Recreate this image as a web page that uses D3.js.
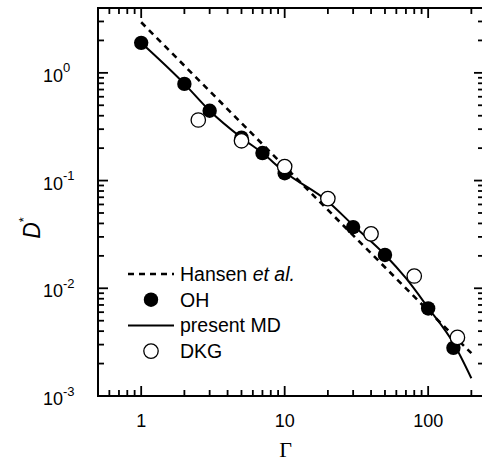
<!DOCTYPE html>
<html>
<head>
<meta charset="utf-8">
<script src="https://cdn.jsdelivr.net/npm/d3@7"></script>
<style>
  html, body { margin: 0; padding: 0; background: #fff; }
  svg { display: block; }
  text { font-family: "Liberation Sans", Arial, sans-serif; fill: #000; }
</style>
</head>
<body>
<svg id="chart" width="482" height="462"></svg>
<script>
// ---- data ----
const hansenGamma = [1, 10, 100, 200];
const hansenD     = [2.95, 0.135, 0.0062, 0.0025];

const mdGamma = [1, 2, 3, 5, 7, 10, 20, 30, 50, 70, 100, 150, 200];
const mdD     = [1.9, 0.79, 0.445, 0.25, 0.18, 0.12, 0.064, 0.0385, 0.0205, 0.0124, 0.0066, 0.0031, 0.00146];

const ohGamma = [1, 2, 3, 5, 7, 10, 30, 50, 100, 150];
const ohD     = [1.9, 0.79, 0.445, 0.25, 0.18, 0.117, 0.037, 0.0204, 0.0065, 0.0028];

const dkgGamma = [2.5, 5, 10, 20, 40, 80, 160];
const dkgD     = [0.365, 0.234, 0.135, 0.068, 0.032, 0.013, 0.0035];

const xMajorTicks = [1, 10, 100];
const xMinorTicks = [0.6, 0.7, 0.8, 0.9, 2, 3, 4, 5, 6, 7, 8, 9, 20, 30, 40, 50, 60, 70, 80, 90, 200];
const yMajorTicks = [1e-3, 1e-2, 1e-1, 1];
const yMajorExp   = ["-3", "-2", "-1", "0"];
const yMinorTicks = [2e-3,3e-3,4e-3,5e-3,6e-3,7e-3,8e-3,9e-3,
                     2e-2,3e-2,4e-2,5e-2,6e-2,7e-2,8e-2,9e-2,
                     0.2,0.3,0.4,0.5,0.6,0.7,0.8,0.9, 2, 3];

const legendItems = [
  {label: "Hansen ", italic: "et al.", kind: "dash"},
  {label: "OH", kind: "filled"},
  {label: "present MD", kind: "solid"},
  {label: "DKG", kind: "open"}
];

// ---- layout ----
const L = 98, R = 484, T = 8, B = 396;
const svg = d3.select("#chart");
const x = d3.scaleLog().domain([0.5, 245]).range([L, R]);
const y = d3.scaleLog().domain([1e-3, 4]).range([B, T]);

const g = svg.append("g");

// frame
g.append("rect").attr("x", L).attr("y", T).attr("width", R - L).attr("height", B - T)
  .attr("fill", "none").attr("stroke", "#000").attr("stroke-width", 2);

// ticks (inward on all sides)
const majorLen = 10, minorLen = 6;
function xTicks(vals, len) {
  g.append("g").selectAll("line.b").data(vals).join("line")
    .attr("x1", d => x(d)).attr("x2", d => x(d)).attr("y1", B).attr("y2", B - len)
    .attr("stroke", "#000").attr("stroke-width", 1.8);
  g.append("g").selectAll("line.t").data(vals).join("line")
    .attr("x1", d => x(d)).attr("x2", d => x(d)).attr("y1", T).attr("y2", T + len)
    .attr("stroke", "#000").attr("stroke-width", 1.8);
}
function yTicks(vals, len) {
  g.append("g").selectAll("line.l").data(vals).join("line")
    .attr("y1", d => y(d)).attr("y2", d => y(d)).attr("x1", L).attr("x2", L + len)
    .attr("stroke", "#000").attr("stroke-width", 1.8);
  g.append("g").selectAll("line.r").data(vals).join("line")
    .attr("y1", d => y(d)).attr("y2", d => y(d)).attr("x1", R).attr("x2", R - len)
    .attr("stroke", "#000").attr("stroke-width", 1.8);
}
xTicks(xMajorTicks, majorLen);
xTicks(xMinorTicks, minorLen);
yTicks(yMajorTicks, majorLen);
yTicks(yMinorTicks, minorLen);

// x tick labels
g.append("g").selectAll("text").data(xMajorTicks).join("text")
  .attr("x", d => x(d)).attr("y", B + 31)
  .attr("text-anchor", "middle").attr("font-size", 18)
  .text(d => d3.format("d")(d));

// y tick labels
const yl = g.append("g").selectAll("text").data(yMajorTicks).join("text")
  .attr("x", 43).attr("y", d => y(d) + 9).attr("font-size", 18);
yl.append("tspan").text("10");
yl.append("tspan").attr("dy", -9.5).attr("font-size", 13).text((d, i) => yMajorExp[i]);

// axis titles
svg.append("text").attr("x", x(10) + 1).attr("y", 457)
  .attr("text-anchor", "middle").attr("font-size", 22)
  .style("font-family", "'Liberation Serif', 'Times New Roman', serif")
  .text("Γ");

const yt = svg.append("text").attr("transform", "translate(40,228) rotate(-90)")
  .attr("text-anchor", "middle").attr("font-size", 23);
yt.append("tspan").attr("font-style", "italic").text("D");
yt.append("tspan").attr("dy", -12).attr("font-size", 13).text("*");

// lines
const line = d3.line().x(d => x(d[0])).y(d => y(d[1]));
g.append("path")
  .datum(d3.zip(hansenGamma, hansenD))
  .attr("d", line)
  .attr("fill", "none").attr("stroke", "#000").attr("stroke-width", 2.6)
  .attr("stroke-dasharray", "6,5");

g.append("path")
  .datum(d3.zip(mdGamma, mdD))
  .attr("d", d3.line().x(d => x(d[0])).y(d => y(d[1])).curve(d3.curveMonotoneX))
  .attr("fill", "none").attr("stroke", "#000").attr("stroke-width", 2);

// markers
const rad = 7.2;
g.append("g").selectAll("circle").data(d3.zip(ohGamma, ohD)).join("circle")
  .attr("cx", d => x(d[0])).attr("cy", d => y(d[1])).attr("r", rad)
  .attr("fill", "#000");
g.append("g").selectAll("circle").data(d3.zip(dkgGamma, dkgD)).join("circle")
  .attr("cx", d => x(d[0])).attr("cy", d => y(d[1])).attr("r", rad)
  .attr("fill", "#fff").attr("stroke", "#000").attr("stroke-width", 1.3);

// legend
const lg = g.append("g");
const rowY = i => 274 + i * 25.7;
legendItems.forEach((it, i) => {
  const yy = rowY(i);
  if (it.kind === "dash") {
    lg.append("line").attr("x1", 128).attr("x2", 174).attr("y1", yy).attr("y2", yy)
      .attr("stroke", "#000").attr("stroke-width", 2.6).attr("stroke-dasharray", "6,5");
  } else if (it.kind === "solid") {
    lg.append("line").attr("x1", 128).attr("x2", 174).attr("y1", yy).attr("y2", yy)
      .attr("stroke", "#000").attr("stroke-width", 2);
  } else if (it.kind === "filled") {
    lg.append("circle").attr("cx", 151).attr("cy", yy).attr("r", rad).attr("fill", "#000");
  } else {
    lg.append("circle").attr("cx", 151).attr("cy", yy).attr("r", rad)
      .attr("fill", "#fff").attr("stroke", "#000").attr("stroke-width", 1.3);
  }
  const t = lg.append("text").attr("x", 180).attr("y", yy + 7).attr("font-size", 19.5);
  t.append("tspan").text(it.label);
  if (it.italic) t.append("tspan").attr("font-style", "italic").text(it.italic);
});
</script>
</body>
</html>
